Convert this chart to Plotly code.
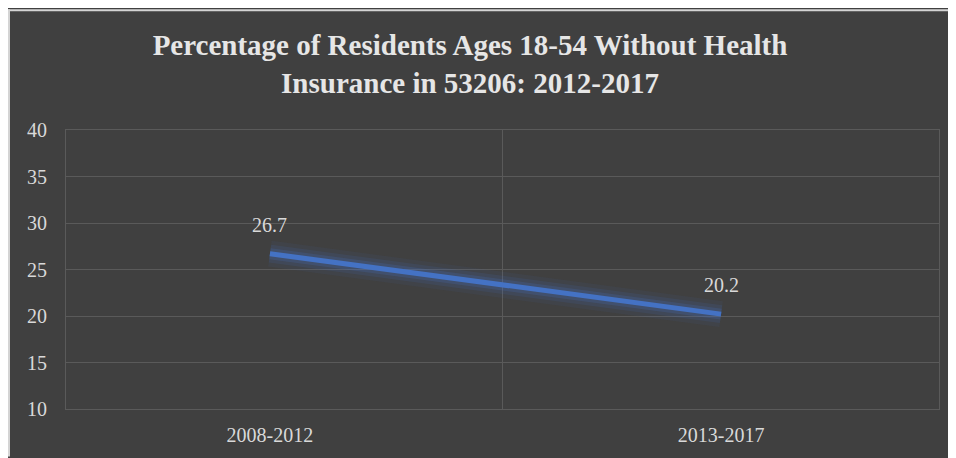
import plotly.graph_objects as go

categories = ["2008-2012", "2013-2017"]
values = [26.7, 20.2]
y_ticks = [10, 15, 20, 25, 30, 35, 40]
title_text = "Percentage of Residents Ages 18-54 Without Health<br>Insurance in 53206: 2012-2017"

W, H = 948, 450
L, R, T, B = 58, 17, 122, 46
pw, ph = W - L - R, H - T - B

def px_to_paper_x(px):
    return (px - L) / pw

def px_to_paper_y(py):
    return (H - B - py) / ph

BG = "#404040"
TXT = "#d9d9d9"
GRID = "#5a5a5a"
BLUE = "#4472c4"
EDGE = "#d4d4d4"
FONT = "Liberation Serif"

fig = go.Figure()

# glow layers
for w, a in [(26, 0.07), (18, 0.12), (11, 0.2)]:
    fig.add_trace(go.Scatter(x=categories, y=values, mode="lines",
                             line=dict(color=f"rgba(68,114,196,{a})", width=w),
                             hoverinfo="skip", showlegend=False))
fig.add_trace(go.Scatter(x=categories, y=values, mode="lines",
                         line=dict(color=BLUE, width=5), showlegend=False))

for c, v in zip(categories, values):
    fig.add_annotation(x=c, y=v, text=f"{v:.1f}", showarrow=False, yshift=29,
                       font=dict(family=FONT, size=20, color=TXT))

# chart border (left and top edges visible)
fig.add_shape(type="line", xref="paper", yref="paper", layer="below",
              x0=px_to_paper_x(1), x1=px_to_paper_x(1),
              y0=px_to_paper_y(H + 2), y1=px_to_paper_y(0),
              line=dict(color=EDGE, width=2))
fig.add_shape(type="line", xref="paper", yref="paper", layer="below",
              x0=px_to_paper_x(0), x1=px_to_paper_x(W + 2),
              y0=px_to_paper_y(1), y1=px_to_paper_y(1),
              line=dict(color=EDGE, width=2))

# category divider gridline (middle of plot area)
fig.add_shape(type="line", xref="paper", yref="paper", layer="below",
              x0=0.5, x1=0.5, y0=0, y1=1, line=dict(color=GRID, width=1))

fig.update_layout(
    width=W, height=H,
    margin=dict(l=L, r=R, t=T, b=B),
    paper_bgcolor=BG,
    plot_bgcolor="rgba(0,0,0,0)",
    title=dict(text=title_text, x=462 / W, xref="container", xanchor="center",
               y=1 - 47 / H, yref="container", yanchor="middle",
               font=dict(family=FONT, size=29, color="#e6e6e6", weight="bold")),
    xaxis=dict(type="category", range=[-0.452, 1.483], showgrid=False,
               showline=True, linecolor=GRID, mirror=True, zeroline=False,
               tickfont=dict(family=FONT, size=20, color=TXT),
               ticks="", ticklabelstandoff=8),
    yaxis=dict(range=[10, 40], tickvals=y_ticks, showgrid=True, gridcolor=GRID,
               gridwidth=1, showline=True, linecolor=GRID, mirror=True,
               zeroline=False, tickfont=dict(family=FONT, size=20, color=TXT),
               ticks="", ticklabelstandoff=14),
    showlegend=False,
)

fig.write_html("out.html",
               post_script="document.documentElement.style.overflow='hidden';")
